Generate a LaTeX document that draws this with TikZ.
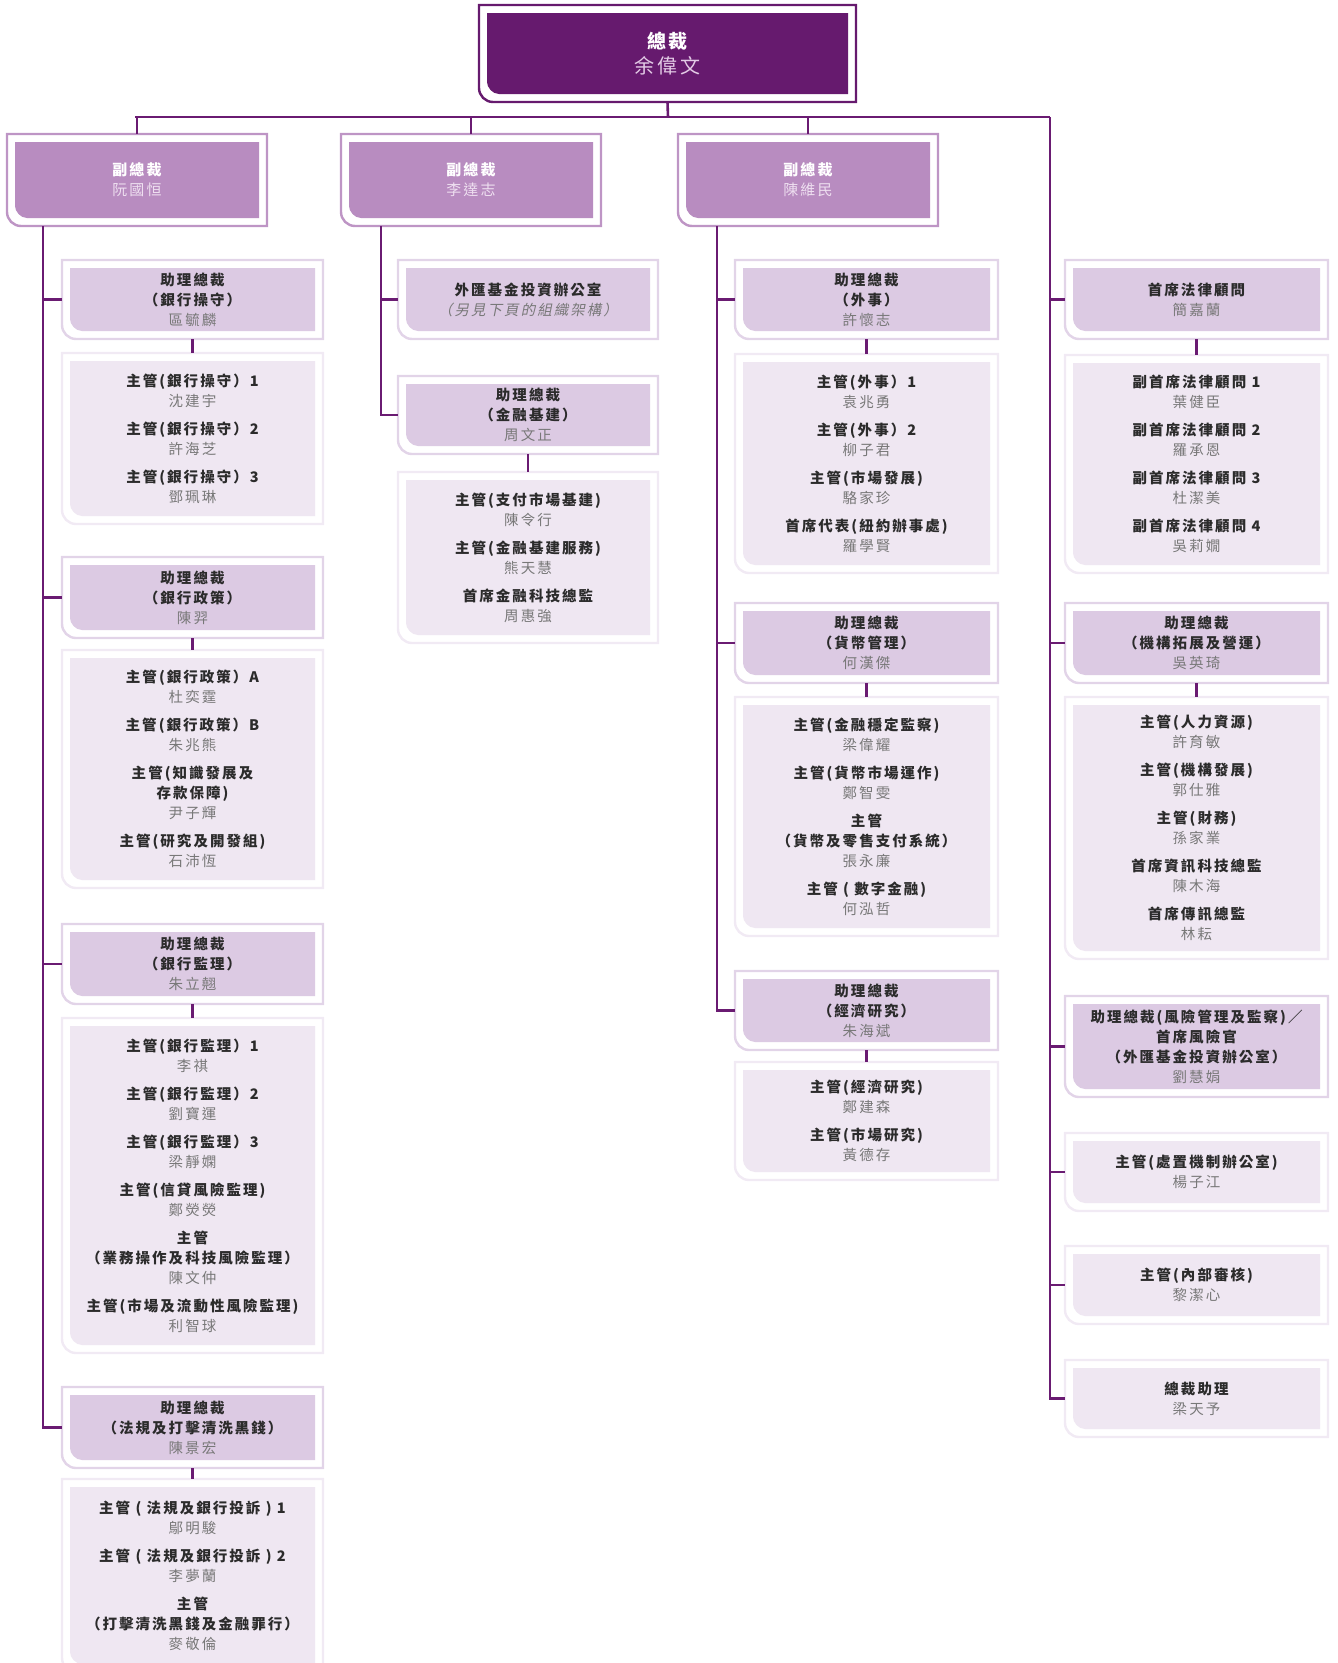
\documentclass[tikz,border=0pt]{standalone}
\usepackage{fontspec}
\newfontfamily\cjk[LetterSpace=14]{Noto Sans CJK TC}
\newfontfamily\cjkit[LetterSpace=14,FakeSlant=0.2]{Noto Sans CJK TC}
\definecolor{cdark}{HTML}{6A1B72}
\definecolor{ceofill}{HTML}{661A6E}
\definecolor{ceoline}{HTML}{661A6E}
\definecolor{vpfill}{HTML}{B88CC0}
\definecolor{vpline}{HTML}{BE95C5}
\definecolor{apfill}{HTML}{DCCAE3}
\definecolor{apline}{HTML}{E2D4E8}
\definecolor{lsfill}{HTML}{EFE7F2}
\definecolor{lsline}{HTML}{F1EAF4}
\definecolor{ttl}{HTML}{2B2B2B}
\definecolor{nm}{HTML}{787878}
\definecolor{ceoname}{HTML}{E3CBE6}
\definecolor{vpname}{HTML}{EEDFF0}
\newcommand\T[1]{{\bfseries\color{ttl}#1}}
\newcommand\N[1]{{\color{nm}#1}}
% #1 kind, #2 x1, #3 y1, #4 x2, #5 y2 (outer frame), #6 name, #7 text style, #8 text
\newcommand\orgfrm[8]{%
  \draw[#1line, line width=2.4pt, fill=white] (#2,#3) -- (#4,#3) -- (#4,#5) -- ({#2+14},#5) .. controls ({#2+6.3},#5) and (#2,{#5-6.3}) .. (#2,{#5-14}) -- cycle;
  \fill[#1fill] ({#2+8},{#3+8}) -- ({#4-8},{#3+8}) -- ({#4-8},{#5-8}) -- ({#2+20},{#5-8}) .. controls ({#2+13.4},{#5-8}) and ({#2+8},{#5-14.6}) .. ({#2+8},{#5-20}) -- cycle;
  \node[inner sep=0pt, minimum width={#4-#2}, minimum height={#5-#3}] (#6) at ({(#2+#4)/2},{(#3+#5)/2}) {};
  \node[#7] (#6-t) at (#6.center) {#8};
}
\tikzset{
  conn/.style={draw=cdark, line width=2.6pt},
  txt/.style={align=center, inner sep=0pt, font=\cjk\fontsize{14.5}{20}\selectfont},
  vptxt/.style={align=center, inner sep=0pt, font=\cjk\fontsize{15}{20}\selectfont},
  ceotxt/.style={align=center, inner sep=0pt, font=\cjk\fontsize{19}{25}\selectfont},
}
\begin{document}
\begin{tikzpicture}[x=1pt,y=-1pt]
\useasboundingbox (0,0) rectangle (1338,1663);
\clip (0,0) rectangle (1338,1663);

\coordinate (hbar) at (668,117);
\coordinate (hl) at (135,117);
\coordinate (hr) at (1050,117);
\coordinate (t1) at (43,226);
\coordinate (t2) at (381,226);
\coordinate (t3) at (717,226);

% top level
\orgfrm{ceo}{479}{5}{856}{102}{ceo}{ceotxt}{{\bfseries\color{white}總裁}\\{\fontsize{20}{25}\selectfont\color{ceoname}余偉文}}
\orgfrm{vp}{7}{134}{267}{226}{vp1}{vptxt}{{\bfseries\color{white}副總裁}\\{\color{vpname}阮國恒}}
\orgfrm{vp}{341}{134}{601}{226}{vp2}{vptxt}{{\bfseries\color{white}副總裁}\\{\color{vpname}李達志}}
\orgfrm{vp}{678}{134}{938}{226}{vp3}{vptxt}{{\bfseries\color{white}副總裁}\\{\color{vpname}陳維民}}

% column 1
\orgfrm{ap}{62}{260}{323}{339}{a1}{txt}{\T{助理總裁}\\\T{（銀行操守）}\\\N{區毓麟}}
\orgfrm{ls}{62}{353}{323}{524}{l1}{txt}{\T{主管(銀行操守）1}\\\N{沈建宇}\\[8pt]\T{主管(銀行操守）2}\\\N{許海芝}\\[8pt]\T{主管(銀行操守）3}\\\N{鄧珮琳}}
\orgfrm{ap}{62}{557}{323}{638}{a2}{txt}{\T{助理總裁}\\\T{（銀行政策）}\\\N{陳羿}}
\orgfrm{ls}{62}{650}{323}{888}{l2}{txt}{\T{主管(銀行政策）A}\\\N{杜奕霆}\\[8pt]\T{主管(銀行政策）B}\\\N{朱兆熊}\\[8pt]\T{主管(知識發展及}\\\T{存款保障)}\\\N{尹子輝}\\[8pt]\T{主管(研究及開發組)}\\\N{石沛恆}}
\orgfrm{ap}{62}{924}{323}{1004}{a3}{txt}{\T{助理總裁}\\\T{（銀行監理）}\\\N{朱立翹}}
\orgfrm{ls}{62}{1018}{323}{1353}{l3}{txt}{\T{主管(銀行監理）1}\\\N{李祺}\\[8pt]\T{主管(銀行監理）2}\\\N{劉寶運}\\[8pt]\T{主管(銀行監理）3}\\\N{梁靜嫻}\\[8pt]\T{主管(信貸風險監理)}\\\N{鄭熒熒}\\[8pt]\T{主管}\\\T{（業務操作及科技風險監理）}\\\N{陳文仲}\\[8pt]\T{主管(市場及流動性風險監理)}\\\N{利智球}}
\orgfrm{ap}{62}{1387}{323}{1468}{a4}{txt}{\T{助理總裁}\\\T{（法規及打擊清洗黑錢）}\\\N{陳景宏}}
\orgfrm{ls}{62}{1479}{323}{1672}{l4}{txt}{\T{主管 ( 法規及銀行投訴 ) 1}\\\N{鄔明駿}\\[8pt]\T{主管 ( 法規及銀行投訴 ) 2}\\\N{李夢蘭}\\[8pt]\T{主管}\\\T{（打擊清洗黑錢及金融罪行）}\\\N{麥敬倫}}

% column 2
\orgfrm{ap}{398}{260}{658}{339}{fx}{txt}{\T{外匯基金投資辦公室}\\{\cjkit\color{nm}（另見下頁的組織架構）}}
\orgfrm{ap}{398}{376}{658}{454}{a5}{txt}{\T{助理總裁}\\\T{（金融基建）}\\\N{周文正}}
\orgfrm{ls}{398}{472}{658}{643}{l5}{txt}{\T{主管(支付市場基建)}\\\N{陳令行}\\[8pt]\T{主管(金融基建服務)}\\\N{熊天慧}\\[8pt]\T{首席金融科技總監}\\\N{周惠強}}

% column 3
\orgfrm{ap}{735}{260}{998}{339}{a6}{txt}{\T{助理總裁}\\\T{（外事）}\\\N{許懷志}}
\orgfrm{ls}{735}{354}{998}{573}{l6}{txt}{\T{主管(外事）1}\\\N{袁兆勇}\\[8pt]\T{主管(外事）2}\\\N{柳子君}\\[8pt]\T{主管(市場發展)}\\\N{駱家珍}\\[8pt]\T{首席代表(紐約辦事處)}\\\N{羅學賢}}
\orgfrm{ap}{735}{603}{998}{683}{a7}{txt}{\T{助理總裁}\\\T{（貨幣管理）}\\\N{何漢傑}}
\orgfrm{ls}{735}{697}{998}{936}{l7}{txt}{\T{主管(金融穩定監察)}\\\N{梁偉耀}\\[8pt]\T{主管(貨幣市場運作)}\\\N{鄭智雯}\\[8pt]\T{主管}\\\T{（貨幣及零售支付系統）}\\\N{張永廉}\\[8pt]\T{主管 ( 數字金融)}\\\N{何泓哲}}
\orgfrm{ap}{735}{971}{998}{1050}{a8}{txt}{\T{助理總裁}\\\T{（經濟研究）}\\\N{朱海斌}}
\orgfrm{ls}{735}{1062}{998}{1180}{l8}{txt}{\T{主管(經濟研究)}\\\N{鄭建森}\\[8pt]\T{主管(市場研究)}\\\N{黃德存}}

% column 4
\orgfrm{ap}{1065}{260}{1328}{339}{a9}{txt}{\T{首席法律顧問}\\\N{簡嘉蘭}}
\orgfrm{ls}{1065}{355}{1328}{573}{l9}{txt}{\T{副首席法律顧問 1}\\\N{葉健臣}\\[8pt]\T{副首席法律顧問 2}\\\N{羅承恩}\\[8pt]\T{副首席法律顧問 3}\\\N{杜潔美}\\[8pt]\T{副首席法律顧問 4}\\\N{吳莉嫺}}
\orgfrm{ap}{1065}{603}{1328}{683}{a10}{txt}{\T{助理總裁}\\\T{（機構拓展及營運）}\\\N{吳英琦}}
\orgfrm{ls}{1065}{697}{1328}{959}{l10}{txt}{\T{主管(人力資源)}\\\N{許育敏}\\[8pt]\T{主管(機構發展)}\\\N{郭仕雅}\\[8pt]\T{主管(財務)}\\\N{孫家業}\\[8pt]\T{首席資訊科技總監}\\\N{陳木海}\\[8pt]\T{首席傳訊總監}\\\N{林耘}}
\orgfrm{ap}{1065}{996}{1328}{1097}{a11}{txt}{\T{助理總裁(風險管理及監察)／}\\\T{首席風險官}\\\T{（外匯基金投資辦公室）}\\\N{劉慧娟}}
\orgfrm{ls}{1065}{1133}{1328}{1211}{b1}{txt}{\T{主管(處置機制辦公室)}\\\N{楊子江}}
\orgfrm{ls}{1065}{1246}{1328}{1324}{b2}{txt}{\T{主管(內部審核)}\\\N{黎潔心}}
\orgfrm{ls}{1065}{1360}{1328}{1437}{b3}{txt}{\T{總裁助理}\\\N{梁天予}}

% connectors
\draw[conn] (ceo.south) -- (hbar);
\draw[conn] (hl) -- (hr);
\draw[conn] (vp1.north) -- (vp1.north |- hl);
\draw[conn] (vp2.north) -- (vp2.north |- hl);
\draw[conn] (vp3.north) -- (vp3.north |- hl);

\draw[conn] (t1) |- (a1.west);
\draw[conn] (t1) |- (a2.west);
\draw[conn] (t1) |- (a3.west);
\draw[conn] (t1) |- (a4.west);
\draw[conn] (t2) |- (fx.west);
\draw[conn] (t2) |- (a5.west);
\draw[conn] (t3) |- (a6.west);
\draw[conn] (t3) |- (a7.west);
\draw[conn] (t3) |- (a8.west);
\draw[conn] (hr) |- (a9.west);
\draw[conn] (hr) |- (a10.west);
\draw[conn] (hr) |- (a11.west);
\draw[conn] (hr) |- (b1.west);
\draw[conn] (hr) |- (b2.west);
\draw[conn] (hr) |- (b3.west);

\draw[conn] (a1.south) -- (l1.north);
\draw[conn] (a2.south) -- (l2.north);
\draw[conn] (a3.south) -- (l3.north);
\draw[conn] (a4.south) -- (l4.north);
\draw[conn] (a5.south) -- (l5.north);
\draw[conn] (a6.south) -- (l6.north);
\draw[conn] (a7.south) -- (l7.north);
\draw[conn] (a8.south) -- (l8.north);
\draw[conn] (a9.south) -- (l9.north);
\draw[conn] (a10.south) -- (l10.north);
\end{tikzpicture}
\end{document}
